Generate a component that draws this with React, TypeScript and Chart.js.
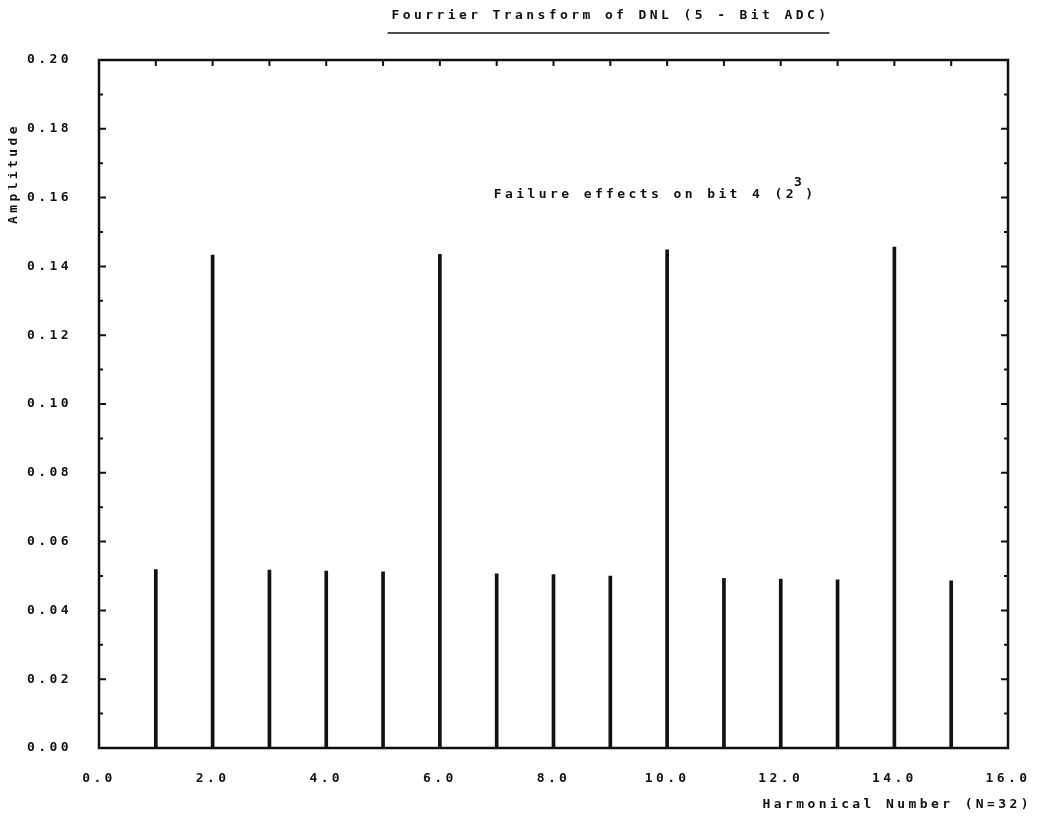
import React, { useEffect, useRef } from 'react';
import { Chart, registerables } from 'chart.js';

Chart.register(...registerables);

// ---- data ----
const harmonics = [1, 2, 3, 4, 5, 6, 7, 8, 9, 10, 11, 12, 13, 14, 15];
const amplitudes = [
  0.0519, 0.1433, 0.0517, 0.0514, 0.0512, 0.1435, 0.0506, 0.0504, 0.05, 0.1448,
  0.0493, 0.0491, 0.0489, 0.1456, 0.0486,
];
const xMin = 0;
const xMax = 16;
const xLabelStep = 2;
const yMin = 0;
const yMax = 0.2;
const yLabelStep = 0.02;
const yMinorStep = 0.01;

const titleText = 'Fourrier Transform of DNL (5 - Bit ADC)';
const noteText = 'Failure effects on bit 4 (2';
const noteSup = '3';
const noteEnd = ')';
const xAxisTitle = 'Harmonical Number (N=32)';
const yAxisTitle = 'Amplitude';

const FONT_FAMILY = '"DejaVu Sans Mono", "Liberation Mono", monospace';
const INK = '#111111';
const SPACING = '3.4px';

const setSpacing = (chart: any) => {
  try {
    chart.ctx.letterSpacing = SPACING;
  } catch (e) {}
};

const decorPlugin = {
  id: 'decor',
  beforeLayout(chart: any) {
    setSpacing(chart);
  },
  beforeDraw(chart: any) {
    setSpacing(chart);
  },
  afterDatasetsDraw(chart: any) {
    const ctx = chart.ctx;
    const a = chart.chartArea;
    const xs = chart.scales.x;
    const ys = chart.scales.y;
    ctx.save();
    ctx.letterSpacing = SPACING;
    ctx.strokeStyle = INK;
    ctx.fillStyle = INK;

    // frame
    ctx.lineWidth = 2.5;
    ctx.strokeRect(a.left, a.top, a.right - a.left, a.bottom - a.top);

    // inward ticks: left & right (every 0.01), top (every 1.0)
    ctx.lineWidth = 2;
    ctx.beginPath();
    ys.ticks.forEach((t: any) => {
      const y = ys.getPixelForValue(t.value);
      const major = Math.round(t.value / yMinorStep) % 2 === 0;
      const len = major ? 7 : 4;
      ctx.moveTo(a.left, y);
      ctx.lineTo(a.left + len, y);
      ctx.moveTo(a.right, y);
      ctx.lineTo(a.right - len, y);
    });
    xs.ticks.forEach((t: any) => {
      const x = xs.getPixelForValue(t.value);
      ctx.moveTo(x, a.top);
      ctx.lineTo(x, a.top + 6);
    });
    ctx.stroke();

    // title with underline
    ctx.font = `bold 13px ${FONT_FAMILY}`;
    ctx.textBaseline = 'middle';
    ctx.textAlign = 'left';
    const tw = ctx.measureText(titleText).width;
    const tx = xs.getPixelForValue(5.15);
    const ty = a.top - 44;
    ctx.fillText(titleText, tx, ty);
    ctx.lineWidth = 1.5;
    ctx.beginPath();
    ctx.moveTo(tx - 4, a.top - 27);
    ctx.lineTo(tx + tw, a.top - 27);
    ctx.stroke();

    // annotation
    const nx = xs.getPixelForValue(6.95);
    const ny = ys.getPixelForValue(0.161);
    ctx.fillText(noteText, nx, ny);
    const nw = ctx.measureText(noteText).width;
    ctx.fillText(noteSup, nx + nw - 3, ny - 12);
    const sw = ctx.measureText(noteSup).width;
    ctx.fillText(noteEnd, nx + nw + sw - 3, ny);

    // y axis title (rotated)
    ctx.save();
    ctx.translate(a.left - 85, ys.getPixelForValue(0.167));
    ctx.rotate(-Math.PI / 2);
    ctx.textAlign = 'center';
    ctx.fillText(yAxisTitle, 0, 0);
    ctx.restore();

    // x axis title at bottom right
    ctx.textAlign = 'right';
    ctx.fillText(xAxisTitle, a.right + 24, a.bottom + 57);

    ctx.restore();
  },
};

export default function App() {
  const canvasRef = useRef<HTMLCanvasElement | null>(null);

  useEffect(() => {
    const canvas = canvasRef.current;
    if (!canvas) return;
    const tickFont = { family: FONT_FAMILY, size: 13, weight: 'bold' as const };
    const chart = new Chart(canvas, {
      type: 'bar',
      data: {
        datasets: [
          {
            data: harmonics.map((x, i) => ({ x, y: amplitudes[i] })),
            backgroundColor: INK,
            borderWidth: 0,
            barThickness: 3,
          },
        ],
      },
      options: {
        responsive: true,
        maintainAspectRatio: false,
        animation: false,
        layout: { padding: { left: 0, right: 23, top: 52, bottom: 0 } },
        plugins: {
          legend: { display: false },
          tooltip: { enabled: false },
          title: { display: false },
        },
        scales: {
          x: {
            type: 'linear',
            min: xMin,
            max: xMax,
            offset: false,
            grid: { display: false, offset: false },
            border: { display: false },
            ticks: {
              stepSize: 1,
              autoSkip: false,
              maxRotation: 0,
              padding: 15,
              color: INK,
              font: tickFont,
              callback: (v: any) =>
                Math.round(Number(v)) % xLabelStep === 0 ? Number(v).toFixed(1) : '',
            },
            afterFit: (s: any) => {
              s.height = 65;
              s.paddingLeft = 0;
              s.paddingRight = 0;
            },
          },
          y: {
            type: 'linear',
            min: yMin,
            max: yMax,
            grid: { display: false },
            border: { display: false },
            ticks: {
              stepSize: yMinorStep,
              autoSkip: false,
              padding: 19,
              color: INK,
              font: tickFont,
              callback: (v: any) =>
                Math.round(Number(v) / yMinorStep) % Math.round(yLabelStep / yMinorStep) === 0
                  ? Number(v).toFixed(2)
                  : '',
            },
            afterFit: (s: any) => {
              s.width = 91;
              s.paddingTop = 0;
              s.paddingBottom = 0;
            },
          },
        },
      },
      plugins: [decorPlugin],
    } as any);
    return () => chart.destroy();
  }, []);

  return (
    <div style={{ width: 1023, height: 805, position: 'relative' }}>
      <canvas ref={canvasRef} />
    </div>
  );
}
